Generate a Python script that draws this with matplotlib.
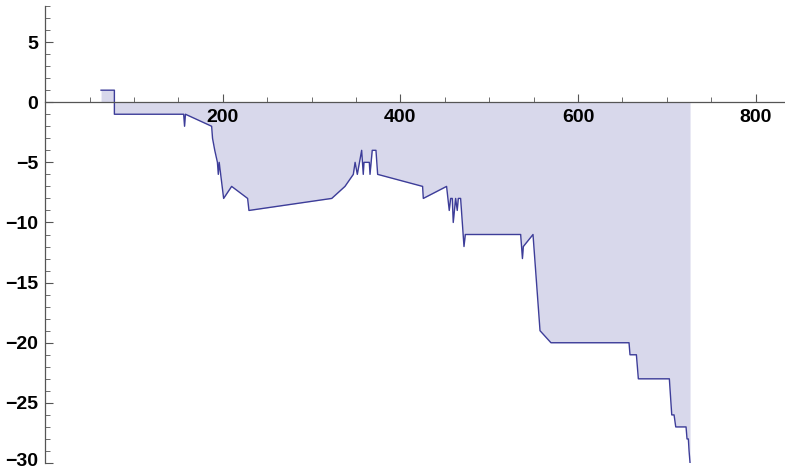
import matplotlib
matplotlib.use("Agg")
import matplotlib.pyplot as plt
import matplotlib.transforms as mtrans
from matplotlib.ticker import MultipleLocator, FixedLocator

# vertices of the running score curve
xs = [63, 78, 78, 156, 157, 158, 187.5, 188.5, 191, 194, 195, 196, 201, 210, 228, 229.5,
      322.7, 337.6, 347, 349, 351.5, 356.4, 358.2, 359, 365, 365.8, 368.3, 372.5, 374.4,
      425, 425.8, 452, 455, 456.6, 458.4, 459.5, 462.2, 464, 465.2, 467.8, 471.6, 473.1,
      535.4, 537.4, 538.4, 549.3, 557.2, 569.5, 657.4, 658.5, 665.7, 667.9, 702.8, 705.5,
      708.1, 710, 721.6, 722.7, 724.2, 725, 726.1]
ys = [1, 1, -1, -1, -2, -1, -2, -3, -4, -5, -6, -5, -8, -7, -8, -9,
      -8, -7, -6, -5, -6, -4, -6, -5, -5, -6, -4, -4, -6,
      -7, -8, -7, -9, -8, -8, -10, -8, -9, -8, -8, -12, -11,
      -11, -13, -12, -11, -19, -20, -20, -21, -21, -23, -23, -26,
      -26, -27, -27, -28, -28, -29, -30]

x_major = [200, 400, 600, 800]
y_major = [5, 0, -5, -10, -15, -20, -25, -30]

line_col = "#3d3d99"
fill_col = "#d8d8eb"
axis_col = "#555555"

fig = plt.figure(figsize=(7.85, 4.71), dpi=100)
ax = fig.add_axes([45.1 / 785, 1 - 463.0 / 471, 1 - 45.1 / 785, (463.0 - 6) / 471])

ax.fill_between(xs, ys, 0, color=fill_col, linewidth=0, zorder=1)
ax.plot(xs, ys, color=line_col, linewidth=1.0, zorder=2)

ax.set_xlim(0, 833)
ax.set_ylim(-30, 8)

for s in ("top", "right"):
    ax.spines[s].set_visible(False)
ax.spines["bottom"].set_position(("data", 0))
for s in ("left", "bottom"):
    ax.spines[s].set_color(axis_col)
    ax.spines[s].set_linewidth(0.9)

ax.xaxis.set_major_locator(FixedLocator(x_major))
ax.xaxis.set_minor_locator(MultipleLocator(50))
ax.yaxis.set_major_locator(FixedLocator(y_major))
ax.yaxis.set_minor_locator(MultipleLocator(1))

ax.tick_params(axis="both", which="major", direction="in", length=6, width=0.8,
               color=axis_col, labelsize=14, pad=5)
ax.tick_params(axis="both", which="minor", direction="in", length=3.5, width=0.6,
               color=axis_col)

for lab in ax.get_xticklabels() + ax.get_yticklabels():
    lab.set_fontfamily("Liberation Sans")
    lab.set_fontweight("bold")

# keep the bottom label inside the figure
fig.canvas.draw()
ylabs = ax.get_yticklabels()
ylabs[-1].set_transform(ylabs[-1].get_transform() +
                        mtrans.ScaledTranslation(0, 3 / 100, fig.dpi_scale_trans))

fig.savefig("out.png", dpi=100)
